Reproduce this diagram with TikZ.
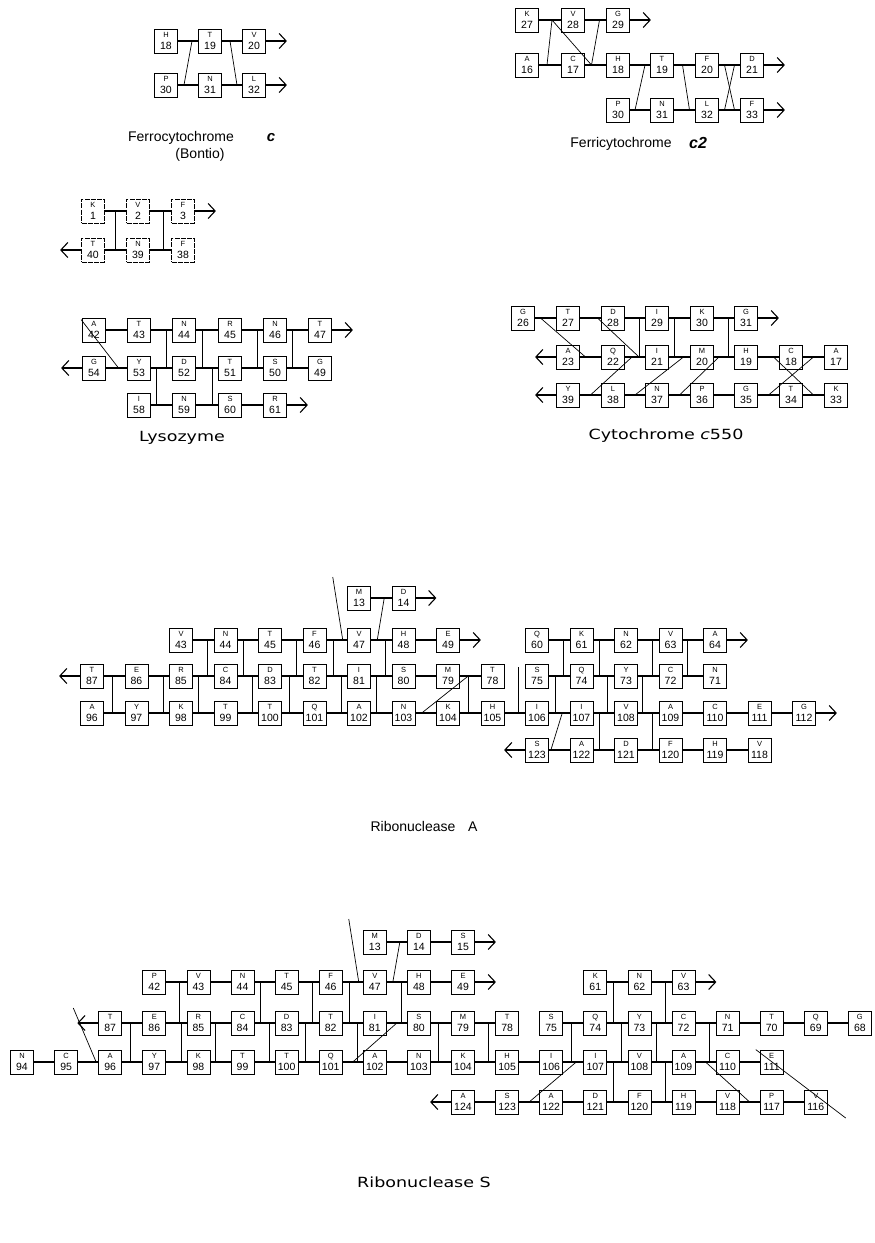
\documentclass[tikz,border=0pt]{standalone}
\usepackage{fontspec}
\setmainfont{Liberation Sans}
\newfontfamily\widefont[FakeStretch=1.25]{DejaVu Sans}
\usetikzlibrary{arrows.meta,calc}

% residue box: one-letter code above, sequence number below
\newcommand\lt{\fontsize{7.5}{7.5}\selectfont}
\newcommand\bx[5]{\node[res] (#1) at (#2,#3) {{\lt #4}\\[2.5pt]#5};}
% point in the gap between two neighbouring boxes of a row, shifted by #4
\newcommand\gp[4]{\coordinate (#1) at ($(#2.east)!.5!(#3.west)+(#4,0)$);}
% vertical rung from a gap point down to the row of node #2
\newcommand\vl[2]{\draw[rung] (#1) -- (#1 |- #2);}
% chain ends
\newcommand\rarr[1]{\coordinate (#1-e) at ($(#1.east)+(21,0)$);\draw[hl,arr] (#1) -- (#1-e);}
\newcommand\larr[1]{\coordinate (#1-w) at ($(#1.west)+(-21,0)$);\draw[hl,arr] (#1) -- (#1-w);}

\tikzset{
  res/.style={draw, line width=0.8pt, minimum width=23pt, minimum height=24pt,
    inner sep=0pt, align=center, font=\fontsize{10.5}{9}\selectfont},
  hl/.style={line width=1.4pt},
  rung/.style={line width=0.7pt},
  dl/.style={line width=0.7pt},
  arr/.style={-{Straight Barb[length=7pt,width=15pt,line width=1.1pt]}},
  title/.style={font=\fontsize{14}{14}\selectfont, inner sep=0pt},
  wtitle/.style={font=\widefont\fontsize{14}{14}\selectfont, inner sep=0pt},
}

\begin{document}
\begin{tikzpicture}[x=1pt,y=-1pt]
\useasboundingbox (0,0) rectangle (875,1243);

% ---------------- Ferrocytochrome c (Bontio)
\bx{fo18}{166}{41}{H}{18} \bx{fo19}{210}{41}{T}{19} \bx{fo20}{254}{41}{V}{20}
\bx{fo30}{166}{85}{P}{30} \bx{fo31}{210}{85}{N}{31} \bx{fo32}{254}{85}{L}{32}
\draw[hl] (fo18)--(fo19); \draw[hl] (fo19)--(fo20);
\draw[hl] (fo30)--(fo31); \draw[hl] (fo31)--(fo32);
\rarr{fo20} \rarr{fo32}
\gp{fo-a}{fo30}{fo31}{-4} \gp{fo-b}{fo18}{fo19}{4} \draw[dl] (fo-a)--(fo-b);
\gp{fo-c}{fo19}{fo20}{-2} \gp{fo-d}{fo31}{fo32}{5} \draw[dl] (fo-c)--(fo-d);
\node[title,anchor=base] (tfo) at (181,141) {Ferrocytochrome};
\node[title,anchor=base] (tfoc) at (271,141) {\fontsize{15}{15}\selectfont\bfseries\itshape c};
\node[title,anchor=base] (tfob) at (200,158) {(Bontio)};

% ---------------- Ferricytochrome c2
\bx{fi27}{527}{20}{K}{27} \bx{fi28}{573}{20}{V}{28} \bx{fi29}{618}{20}{G}{29}
\bx{fi16}{527}{65}{A}{16} \bx{fi17}{573}{65}{C}{17} \bx{fi18}{618}{65}{H}{18}
\bx{fi19}{662}{65}{T}{19} \bx{fi20}{707}{65}{F}{20} \bx{fi21}{752}{65}{D}{21}
\bx{fi30}{618}{110}{P}{30} \bx{fi31}{662}{110}{N}{31} \bx{fi32}{707}{110}{L}{32} \bx{fi33}{752}{110}{F}{33}
\foreach \a/\b in {fi27/fi28,fi28/fi29,fi16/fi17,fi17/fi18,fi18/fi19,fi19/fi20,fi20/fi21,fi30/fi31,fi31/fi32,fi32/fi33}
  \draw[hl] (\a)--(\b);
\rarr{fi29} \rarr{fi21} \rarr{fi33}
\gp{fi-a}{fi16}{fi17}{-3} \gp{fi-b}{fi27}{fi28}{2}
\gp{fi-d}{fi17}{fi18}{-4} \gp{fi-e}{fi28}{fi29}{4}
\draw[dl] (fi-a)--(fi-b)--(fi-d)--(fi-e);
\gp{fi-f}{fi30}{fi31}{-5} \gp{fi-g}{fi18}{fi19}{5} \draw[dl] (fi-f)--(fi-g);
\gp{fi-h}{fi19}{fi20}{-2} \gp{fi-i}{fi31}{fi32}{5} \draw[dl] (fi-h)--(fi-i);
\gp{fi-j}{fi20}{fi21}{-5} \gp{fi-k}{fi32}{fi33}{5} \draw[dl] (fi-j)--(fi-k);
\gp{fi-l}{fi20}{fi21}{5} \gp{fi-m}{fi32}{fi33}{-5} \draw[dl] (fi-l)--(fi-m);
\node[title,anchor=base] (tfi) at (621,147) {Ferricytochrome};
\node[title,anchor=base] (tfic) at (698,148) {\fontsize{16}{16}\selectfont\bfseries\itshape c2};

% ---------------- residues 1-3 / 38-40
\begin{scope}[res/.append style={dash pattern=on 5pt off 1.2pt}]
\bx{kv1}{93}{211}{K}{1} \bx{kv2}{138}{211}{V}{2} \bx{kv3}{183}{211}{F}{3}
\bx{kv40}{93}{250}{T}{40} \bx{kv39}{138}{250}{N}{39} \bx{kv38}{183}{250}{F}{38}
\end{scope}
\draw[hl] (kv1)--(kv2); \draw[hl] (kv2)--(kv3); \rarr{kv3}
\draw[hl] (kv40)--(kv39); \draw[hl] (kv39)--(kv38); \larr{kv40}
\gp{kv-a}{kv1}{kv2}{0} \vl{kv-a}{kv40}
\gp{kv-b}{kv2}{kv3}{3} \vl{kv-b}{kv40}

% ---------------- Lysozyme
\bx{ly42}{94}{330}{A}{42} \bx{ly43}{139}{330}{T}{43} \bx{ly44}{184}{330}{N}{44}
\bx{ly45}{230}{330}{R}{45} \bx{ly46}{275}{330}{N}{46} \bx{ly47}{320}{330}{T}{47}
\bx{ly54}{94}{368}{G}{54} \bx{ly53}{139}{368}{Y}{53} \bx{ly52}{184}{368}{D}{52}
\bx{ly51}{230}{368}{T}{51} \bx{ly50}{275}{368}{S}{50} \bx{ly49}{320}{368}{G}{49}
\bx{ly58}{139}{405}{I}{58} \bx{ly59}{184}{405}{N}{59} \bx{ly60}{230}{405}{S}{60} \bx{ly61}{275}{405}{R}{61}
\foreach \a/\b in {ly42/ly43,ly43/ly44,ly44/ly45,ly45/ly46,ly46/ly47,
  ly54/ly53,ly53/ly52,ly52/ly51,ly51/ly50,ly50/ly49,ly58/ly59,ly59/ly60,ly60/ly61}
  \draw[hl] (\a)--(\b);
\rarr{ly47} \rarr{ly61} \larr{ly54}
\gp{ly-a}{ly43}{ly44}{5}  \vl{ly-a}{ly53}
\gp{ly-b}{ly44}{ly45}{-5} \vl{ly-b}{ly53}
\gp{ly-c}{ly45}{ly46}{5}  \vl{ly-c}{ly53}
\gp{ly-d}{ly46}{ly47}{-5} \vl{ly-d}{ly53}
\gp{ly-e}{ly53}{ly52}{-5} \vl{ly-e}{ly58}
\gp{ly-f}{ly52}{ly51}{5}  \vl{ly-f}{ly58}
\coordinate (ly-s) at ($(ly42.north west)+(-1,2)$);
\gp{ly-g}{ly54}{ly53}{2} \draw[dl] (ly-s)--(ly-g);
\node[wtitle,anchor=base] (tly) at (182,441) {Lysozyme};

% ---------------- Cytochrome c550
\bx{cy26}{523}{318}{G}{26} \bx{cy27}{568}{318}{T}{27} \bx{cy28}{613}{318}{D}{28}
\bx{cy29}{657}{318}{I}{29} \bx{cy30}{702}{318}{K}{30} \bx{cy31}{746}{318}{G}{31}
\bx{cy23}{568}{357}{A}{23} \bx{cy22}{613}{357}{Q}{22} \bx{cy21}{657}{357}{I}{21}
\bx{cy20}{702}{357}{M}{20} \bx{cy19}{746}{357}{H}{19} \bx{cy18}{791}{357}{C}{18} \bx{cy17}{836}{357}{A}{17}
\bx{cy39}{568}{395}{Y}{39} \bx{cy38}{613}{395}{L}{38} \bx{cy37}{657}{395}{N}{37}
\bx{cy36}{702}{395}{P}{36} \bx{cy35}{746}{395}{G}{35} \bx{cy34}{791}{395}{T}{34} \bx{cy33}{836}{395}{K}{33}
\foreach \a/\b in {cy26/cy27,cy27/cy28,cy28/cy29,cy29/cy30,cy30/cy31,
  cy23/cy22,cy22/cy21,cy21/cy20,cy20/cy19,cy19/cy18,cy18/cy17,
  cy39/cy38,cy38/cy37,cy37/cy36,cy36/cy35,cy35/cy34,cy34/cy33}
  \draw[hl] (\a)--(\b);
\rarr{cy31} \larr{cy23} \larr{cy39}
\gp{cy-a}{cy26}{cy27}{-5} \gp{cy-b}{cy23}{cy22}{-5} \draw[dl] (cy-a)--(cy-b);
\gp{cy-c}{cy27}{cy28}{7}  \gp{cy-d}{cy22}{cy21}{4}  \draw[dl] (cy-c)--(cy-d);
\gp{cy-e}{cy28}{cy29}{4}  \vl{cy-e}{cy21}
\gp{cy-f}{cy29}{cy30}{-5} \vl{cy-f}{cy21}
\gp{cy-g}{cy30}{cy31}{4}  \vl{cy-g}{cy21}
\gp{cy-h}{cy22}{cy21}{-3} \gp{cy-i}{cy39}{cy38}{0} \draw[dl] (cy-h)--(cy-i);
\gp{cy-j}{cy21}{cy20}{4}  \gp{cy-k}{cy38}{cy37}{0} \draw[dl] (cy-j)--(cy-k);
\gp{cy-l}{cy20}{cy19}{-5} \gp{cy-m}{cy37}{cy36}{0} \draw[dl] (cy-l)--(cy-m);
\gp{cy-n}{cy19}{cy18}{5}  \gp{cy-o}{cy34}{cy33}{0} \draw[dl] (cy-n)--(cy-o);
\gp{cy-p}{cy18}{cy17}{0}  \gp{cy-q}{cy35}{cy34}{0} \draw[dl] (cy-p)--(cy-q);
\node[wtitle,anchor=base] (tcy) at (666,439) {Cytochrome {\itshape c}550};

% ---------------- Ribonuclease A
\bx{ra13}{92+44.5*6}{598}{M}{13} \bx{ra14}{92+44.5*7}{598}{D}{14}
\bx{ra43}{92+44.5*2}{640}{V}{43} \bx{ra44}{92+44.5*3}{640}{N}{44} \bx{ra45}{92+44.5*4}{640}{T}{45}
\bx{ra46}{92+44.5*5}{640}{F}{46} \bx{ra47}{92+44.5*6}{640}{V}{47} \bx{ra48}{92+44.5*7}{640}{H}{48}
\bx{ra49}{92+44.5*8}{640}{E}{49}
\bx{ra60}{92+44.5*10}{640}{Q}{60} \bx{ra61}{92+44.5*11}{640}{K}{61} \bx{ra62}{92+44.5*12}{640}{N}{62}
\bx{ra63}{92+44.5*13}{640}{V}{63} \bx{ra64}{92+44.5*14}{640}{A}{64}
\bx{ra87}{92}{676}{T}{87} \bx{ra86}{92+44.5*1}{676}{E}{86} \bx{ra85}{92+44.5*2}{676}{R}{85}
\bx{ra84}{92+44.5*3}{676}{C}{84} \bx{ra83}{92+44.5*4}{676}{D}{83} \bx{ra82}{92+44.5*5}{676}{T}{82}
\bx{ra81}{92+44.5*6}{676}{I}{81} \bx{ra80}{92+44.5*7}{676}{S}{80} \bx{ra79}{92+44.5*8}{676}{M}{79}
\bx{ra78}{92+44.5*9}{676}{T}{78}
\bx{ra75}{92+44.5*10}{676}{S}{75} \bx{ra74}{92+44.5*11}{676}{Q}{74} \bx{ra73}{92+44.5*12}{676}{Y}{73}
\bx{ra72}{92+44.5*13}{676}{C}{72} \bx{ra71}{92+44.5*14}{676}{N}{71}
\bx{ra96}{92}{713}{A}{96} \bx{ra97}{92+44.5*1}{713}{Y}{97} \bx{ra98}{92+44.5*2}{713}{K}{98}
\bx{ra99}{92+44.5*3}{713}{T}{99} \bx{ra100}{92+44.5*4}{713}{T}{100} \bx{ra101}{92+44.5*5}{713}{Q}{101}
\bx{ra102}{92+44.5*6}{713}{A}{102} \bx{ra103}{92+44.5*7}{713}{N}{103} \bx{ra104}{92+44.5*8}{713}{K}{104}
\bx{ra105}{92+44.5*9}{713}{H}{105} \bx{ra106}{92+44.5*10}{713}{I}{106} \bx{ra107}{92+44.5*11}{713}{I}{107}
\bx{ra108}{92+44.5*12}{713}{V}{108} \bx{ra109}{92+44.5*13}{713}{A}{109} \bx{ra110}{92+44.5*14}{713}{C}{110}
\bx{ra111}{92+44.5*15}{713}{E}{111} \bx{ra112}{92+44.5*16}{713}{G}{112}
\bx{ra123}{92+44.5*10}{750}{S}{123} \bx{ra122}{92+44.5*11}{750}{A}{122} \bx{ra121}{92+44.5*12}{750}{D}{121}
\bx{ra120}{92+44.5*13}{750}{F}{120} \bx{ra119}{92+44.5*14}{750}{H}{119} \bx{ra118}{92+44.5*15}{750}{V}{118}
\foreach \a/\b in {13/14,43/44,44/45,45/46,46/47,47/48,48/49,60/61,61/62,62/63,63/64,
  87/86,86/85,85/84,84/83,83/82,82/81,81/80,80/79,79/78,75/74,74/73,73/72,72/71,
  123/122,122/121,121/120,120/119,119/118}
  \draw[hl] (ra\a)--(ra\b);
\foreach \i [evaluate=\i as \j using int(\i+1)] in {96,...,111}
  \draw[hl] (ra\i)--(ra\j);
\rarr{ra14} \rarr{ra49} \rarr{ra64} \rarr{ra112} \larr{ra87} \larr{ra123}
\gp{ra-p}{ra46}{ra47}{6} \coordinate (ra-top) at ($(ra-p)+(-10,-63)$); \draw[dl] (ra-top)--(ra-p);
\gp{ra-q}{ra13}{ra14}{3} \gp{ra-r}{ra47}{ra48}{-4} \draw[dl] (ra-q)--(ra-r);
\foreach \a/\b/\d [count=\n] in {43/44/4,44/45/-4,45/46/4,46/47/-3,47/48/4,60/61/4,61/62/-4,62/63/4,63/64/-5}
  {\gp{ra-u\n}{ra\a}{ra\b}{\d} \vl{ra-u\n}{ra85}}
\foreach \a/\b/\d [count=\n] in {87/86/-2,86/85/5,85/84/-5,84/83/5,83/82/-3,82/81/5,81/80/-5,79/78/-2,75/74/-4,74/73/4,73/72/-6}
  {\gp{ra-m\n}{ra\a}{ra\b}{\d} \vl{ra-m\n}{ra96}}
\gp{ra-w}{ra78}{ra75}{4} \coordinate (ra-w0) at ($(ra-w)+(0,-9)$); \draw[rung] (ra-w0)--(ra-w |- ra96);
\gp{ra-l1}{ra107}{ra108}{-4} \vl{ra-l1}{ra123}
\gp{ra-l2}{ra108}{ra109}{4}  \vl{ra-l2}{ra123}
\gp{ra-d1}{ra103}{ra104}{-4} \draw[dl] (ra-d1)--(ra-m8);
\gp{ra-d2}{ra106}{ra107}{3} \coordinate (ra-d3) at ($(ra123.east)+(2,0)$); \draw[dl] (ra-d2)--(ra-d3);
\node[title,anchor=base] (tra) at (424,831) {Ribonuclease\hspace{0.9em}A};

% ---------------- Ribonuclease S
\bx{rs13}{22+44.1*8}{942}{M}{13} \bx{rs14}{22+44.1*9}{942}{D}{14} \bx{rs15}{22+44.1*10}{942}{S}{15}
\bx{rs42}{22+44.1*3}{982}{P}{42} \bx{rs43}{22+44.1*4}{982}{V}{43} \bx{rs44}{22+44.1*5}{982}{N}{44}
\bx{rs45}{22+44.1*6}{982}{T}{45} \bx{rs46}{22+44.1*7}{982}{F}{46} \bx{rs47}{22+44.1*8}{982}{V}{47}
\bx{rs48}{22+44.1*9}{982}{H}{48} \bx{rs49}{22+44.1*10}{982}{E}{49}
\bx{rs61}{22+44.1*13}{982}{K}{61} \bx{rs62}{22+44.1*14}{982}{N}{62} \bx{rs63}{22+44.1*15}{982}{V}{63}
\bx{rs87}{22+44.1*2}{1023}{T}{87} \bx{rs86}{22+44.1*3}{1023}{E}{86} \bx{rs85}{22+44.1*4}{1023}{R}{85}
\bx{rs84}{22+44.1*5}{1023}{C}{84} \bx{rs83}{22+44.1*6}{1023}{D}{83} \bx{rs82}{22+44.1*7}{1023}{T}{82}
\bx{rs81}{22+44.1*8}{1023}{I}{81} \bx{rs80}{22+44.1*9}{1023}{S}{80} \bx{rs79}{22+44.1*10}{1023}{M}{79}
\bx{rs78}{22+44.1*11}{1023}{T}{78}
\bx{rs75}{22+44.1*12}{1023}{S}{75} \bx{rs74}{22+44.1*13}{1023}{Q}{74} \bx{rs73}{22+44.1*14}{1023}{Y}{73}
\bx{rs72}{22+44.1*15}{1023}{C}{72} \bx{rs71}{22+44.1*16}{1023}{N}{71} \bx{rs70}{22+44.1*17}{1023}{T}{70}
\bx{rs69}{22+44.1*18}{1023}{Q}{69} \bx{rs68}{22+44.1*19}{1023}{G}{68}
\bx{rs94}{22}{1062}{N}{94} \bx{rs95}{22+44.1*1}{1062}{C}{95} \bx{rs96}{22+44.1*2}{1062}{A}{96}
\bx{rs97}{22+44.1*3}{1062}{Y}{97} \bx{rs98}{22+44.1*4}{1062}{K}{98} \bx{rs99}{22+44.1*5}{1062}{T}{99}
\bx{rs100}{22+44.1*6}{1062}{T}{100} \bx{rs101}{22+44.1*7}{1062}{Q}{101} \bx{rs102}{22+44.1*8}{1062}{A}{102}
\bx{rs103}{22+44.1*9}{1062}{N}{103} \bx{rs104}{22+44.1*10}{1062}{K}{104} \bx{rs105}{22+44.1*11}{1062}{H}{105}
\bx{rs106}{22+44.1*12}{1062}{I}{106} \bx{rs107}{22+44.1*13}{1062}{I}{107} \bx{rs108}{22+44.1*14}{1062}{V}{108}
\bx{rs109}{22+44.1*15}{1062}{A}{109} \bx{rs110}{22+44.1*16}{1062}{C}{110} \bx{rs111}{22+44.1*17}{1062}{E}{111}
\bx{rs124}{22+44.1*10}{1102}{A}{124} \bx{rs123}{22+44.1*11}{1102}{S}{123} \bx{rs122}{22+44.1*12}{1102}{A}{122}
\bx{rs121}{22+44.1*13}{1102}{D}{121} \bx{rs120}{22+44.1*14}{1102}{F}{120} \bx{rs119}{22+44.1*15}{1102}{H}{119}
\bx{rs118}{22+44.1*16}{1102}{V}{118} \bx{rs117}{22+44.1*17}{1102}{P}{117} \bx{rs116}{22+44.1*18}{1102}{V}{116}
\foreach \a/\b in {13/14,14/15,42/43,43/44,44/45,45/46,46/47,47/48,48/49,61/62,62/63,
  87/86,86/85,85/84,84/83,83/82,82/81,81/80,80/79,79/78,
  75/74,74/73,73/72,72/71,71/70,70/69,69/68,
  124/123,123/122,122/121,121/120,120/119,119/118,118/117,117/116}
  \draw[hl] (rs\a)--(rs\b);
\foreach \i [evaluate=\i as \j using int(\i+1)] in {94,...,110}
  \draw[hl] (rs\i)--(rs\j);
\rarr{rs15} \rarr{rs49} \rarr{rs63} \larr{rs87} \larr{rs124}
\gp{rs-p}{rs46}{rs47}{6} \coordinate (rs-top) at ($(rs-p)+(-10,-63)$); \draw[dl] (rs-top)--(rs-p);
\gp{rs-q}{rs13}{rs14}{3} \gp{rs-r}{rs47}{rs48}{-4} \draw[dl] (rs-q)--(rs-r);
\foreach \a/\b/\d [count=\n] in {42/43/3,44/45/-4,45/46/4,46/47/-3,47/48/4,61/62/-4,62/63/4}
  {\gp{rs-u\n}{rs\a}{rs\b}{\d} \vl{rs-u\n}{rs85}}
\foreach \a/\b/\d [count=\n] in {87/86/-2,86/85/5,85/84/-5,84/83/5,83/82/-3,82/81/5,80/79/-3,79/78/3,75/74/-2,74/73/4,73/72/-5,72/71/4}
  {\gp{rs-m\n}{rs\a}{rs\b}{\d} \vl{rs-m\n}{rs96}}
\gp{rs-l1}{rs107}{rs108}{-4} \vl{rs-l1}{rs124}
\gp{rs-l2}{rs108}{rs109}{4}  \vl{rs-l2}{rs124}
\gp{rs-d1}{rs101}{rs102}{0} \gp{rs-d2}{rs81}{rs80}{0} \draw[dl] (rs-d1)--(rs-d2);
\gp{rs-d3}{rs106}{rs107}{3} \gp{rs-d4}{rs123}{rs122}{0} \draw[dl] (rs-d3)--(rs-d4);
\gp{rs-d5}{rs109}{rs110}{0} \gp{rs-d6}{rs118}{rs117}{0} \draw[dl] (rs-d5)--(rs-d6);
\coordinate (rs-d7) at ($(rs111.north west)+(-4,0)$); \coordinate (rs-d8) at ($(rs116.east)+(18,16)$);
\draw[dl] (rs-d7)--(rs-d8);
\coordinate (rs-d9) at ($(rs87.west)+(-25,-15)$); \gp{rs-d10}{rs95}{rs96}{8} \draw[dl] (rs-d9)--(rs-d10);
\node[wtitle,anchor=base] (trs) at (424,1187) {Ribonuclease S};
\end{tikzpicture}
\end{document}
